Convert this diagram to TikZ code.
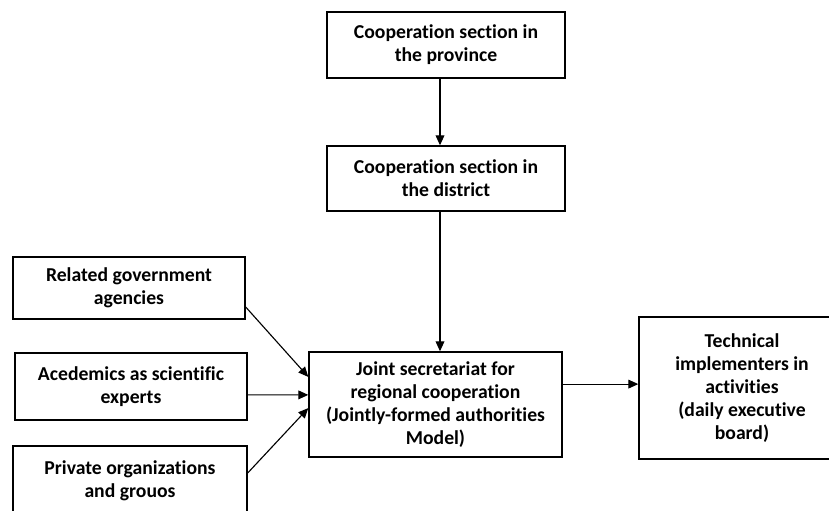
\documentclass[tikz,border=0pt]{standalone}
\usepackage{fontspec}
\setmainfont{Carlito}[Ligatures=NoCommon]
\usetikzlibrary{arrows.meta}

\begin{document}
\begin{tikzpicture}[>={Triangle[length=2.5mm,width=2.2mm]}]
% Box styles
\tikzset{
  box/.style={draw,line width=1pt,align=center,inner sep=2pt,
    font=\bfseries\fontsize{14}{16.5}\selectfont},
  link/.style={->,line width=0.8pt}
}
\clip (0,0) rectangle (20.725,12.75);

% Chain of cooperation sections
\node[box,minimum width=5.95cm,minimum height=1.65cm] (province) at (11.15,11.625) {Cooperation section in\\the province};
\node[box,minimum width=5.95cm,minimum height=1.625cm] (district) at (11.15,8.2875) {Cooperation section in\\the district};
\node[box,minimum width=6.325cm,minimum height=2.625cm] (joint) at (10.8875,2.6375) {Joint secretariat for\\regional cooperation\\(Jointly-formed authorities\\Model)};
\node[box,minimum width=5.15cm,minimum height=3.55cm] (technical) at (18.55,3.05) {Technical\\implementers in\\activities\\(daily executive\\board)};

% Supporting actors
\node[box,minimum width=5.8cm,minimum height=1.55cm] (related) at (3.225,5.55) {Related government\\agencies};
\node[box,minimum width=5.8cm,minimum height=1.675cm] (academics) at (3.275,3.0875) {Acedemics as scientific\\experts};
\node[box,minimum width=5.85cm,minimum height=1.75cm] (private) at (3.25,0.725) {Private organizations\\and grouos};

% Draw connections
\draw[link] ([xshift=-1.5mm]province.south) -- ([xshift=-1.5mm]district.north);
\draw[link] ([xshift=-1.5mm]district.south) -- ([xshift=-1.5mm]district.south |- joint.north);
\draw[link] ([yshift=5.1mm]joint.east) -- ([yshift=5.1mm]joint.east -| technical.west);
\draw[link] ([yshift=-4.75mm]related.east) -- ([yshift=6.9mm]joint.west);
\draw[link] ([yshift=-2.1mm]academics.east) -- ([yshift=2.4mm]joint.west);
\draw[link] ([yshift=2mm]private.east) -- ([yshift=-0.9mm]joint.west);
\end{tikzpicture}
\end{document}
